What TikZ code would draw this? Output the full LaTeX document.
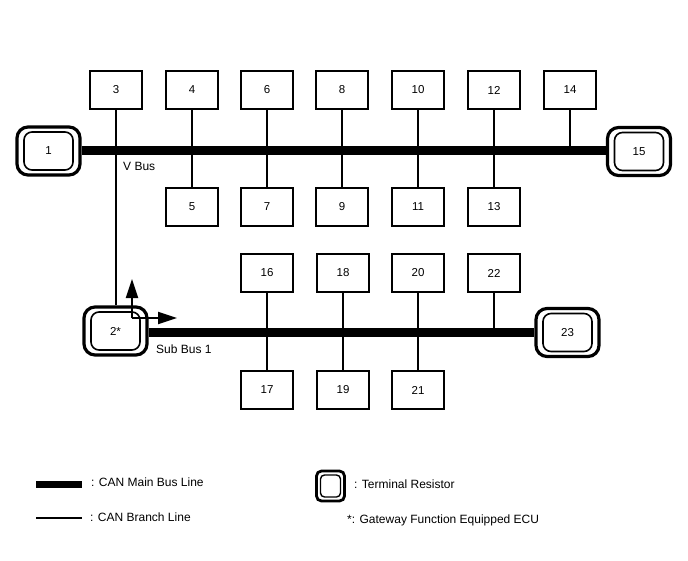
\documentclass[tikz,border=0pt]{standalone}
\usepackage{fontspec}
\setmainfont{Liberation Sans}
\usetikzlibrary{arrows.meta}
\tikzset{
  x=1pt,y=-1pt,
  ecu/.style={draw,line width=2pt,minimum width=52pt,minimum height=38pt,inner sep=0pt,fill=white,font=\fontsize{11.5}{13}\selectfont},
  termouter/.style={draw,line width=3.2pt,rounded corners=11pt,minimum width=63pt,minimum height=48pt,inner sep=0pt,fill=white},
  terminner/.style={draw,line width=1.6pt,rounded corners=8pt,minimum width=49pt,minimum height=38pt,inner sep=0pt,font=\fontsize{11.5}{13}\selectfont},
  legouter/.style={draw,line width=2.8pt,rounded corners=5pt,minimum width=28pt,minimum height=30pt,inner sep=0pt},
  leginner/.style={draw,line width=1.4pt,rounded corners=4pt,minimum width=20pt,minimum height=22pt,inner sep=0pt},
  mainbus/.style={line width=9pt},
  branch/.style={line width=2.2pt},
  lbl/.style={anchor=west,inner sep=0pt,font=\fontsize{12}{14}\selectfont},
  flow/.style={line width=2.2pt,-{Triangle[length=19pt,width=12pt]}}
}
\begin{document}
\begin{tikzpicture}
\useasboundingbox (0,0) rectangle (688,560);

% terminal resistors at both ends of the two buses
\node[termouter] (t1) at (48.5,151) {};
\node[termouter] (t15) at (639,151.5) {};
\node[termouter] (t2) at (115.5,331) {};
\node[termouter] (t23) at (567.5,332.5) {};

% bus anchor points used by the single-sided branches
\coordinate (j14) at (570,150);
\coordinate (j22) at (494,332);

% ECU boxes
\foreach \n/\x/\y in {3/116/90,4/192/90,6/267/90,8/342/90,10/418/90,12/494/90,14/570/90,
  5/192/207,7/267/207,9/342/207,11/418/207,13/494/207,
  16/267/273,18/343/273,20/418/273,22/494/273,
  17/267/390,19/343/390,21/418/390}
  \node[ecu] (b\n) at (\x,\y) {\n};

% branch lines
\draw[branch] (b3) -- (t2.north -| b3);
\draw[branch] (b4) -- (b5);
\draw[branch] (b6) -- (b7);
\draw[branch] (b8) -- (b9);
\draw[branch] (b10) -- (b11);
\draw[branch] (b12) -- (b13);
\draw[branch] (b14) -- (j14);
\draw[branch] (b16) -- (b17);
\draw[branch] (b18) -- (b19);
\draw[branch] (b20) -- (b21);
\draw[branch] (b22) -- (j22);

% main buses
\draw[mainbus] (t1.east |- j14) -- (t15.west |- j14);
\draw[mainbus] (t2.east |- j22) -- (t23.west |- j22);

% terminal inner outlines with their numbers
\node[terminner] at (t1) {1};
\node[terminner] at (t15) {15};
\node[terminner] at (t2) {2*};
\node[terminner] at (t23) {23};

% gateway direction arrows
\coordinate (gw) at (132,318);
\coordinate (gwup) at (132,279);
\coordinate (gwright) at (177,318);
\draw[flow] (gw) -- (gwup);
\draw[flow] (gw) -- (gwright);

% bus names
\node[lbl] (vbus) at (123,166) {V Bus};
\node[lbl] (subbus) at (156,349) {Sub Bus 1};

% legend
\coordinate (lm1) at (36,484);
\coordinate (lm2) at (82,484);
\coordinate (lb1) at (36,518);
\coordinate (lb2) at (82,518);
\draw[line width=7pt] (lm1) -- (lm2);
\draw[line width=2.5pt] (lb1) -- (lb2);
\node[lbl] (lt1) at (91,482) {: CAN Main Bus Line};
\node[lbl] (lt2) at (90,517) {: CAN Branch Line};
\node[legouter] (lr) at (330.5,486) {};
\node[leginner] (lri) at (lr) {};
\node[lbl] (lt3) at (354,484) {: Terminal Resistor};
\node[lbl] (lt4) at (347,520) {*: Gateway Function Equipped ECU};
\end{tikzpicture}
\end{document}
